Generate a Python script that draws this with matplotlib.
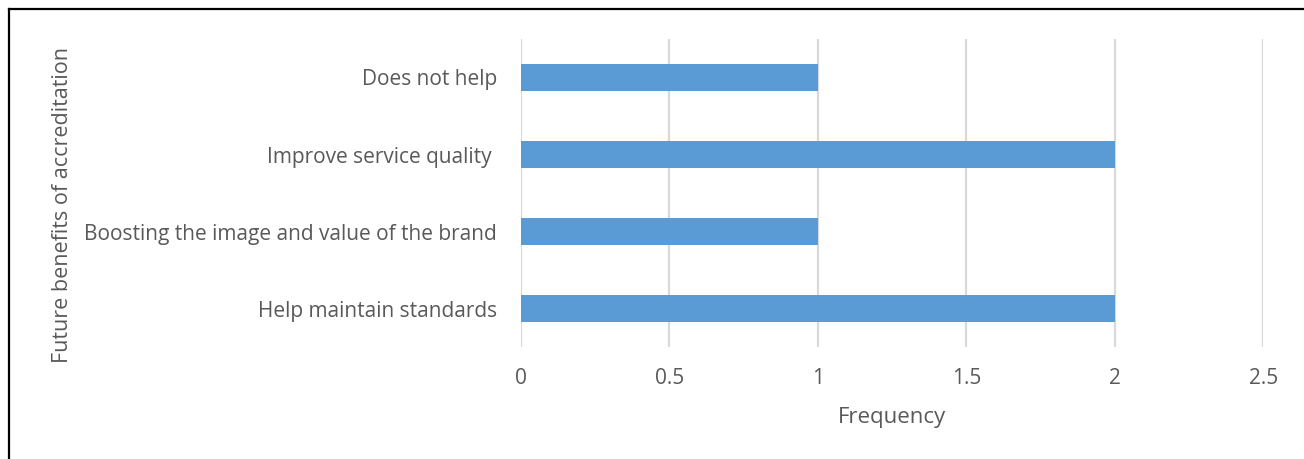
import matplotlib.pyplot as plt
from matplotlib.lines import Line2D

categories = ["Help maintain standards",
              "Boosting the image and value of the brand",
              "Improve service quality ",
              "Does not help"]
frequency = [2, 1, 2, 1]
x_ticks = [0, 0.5, 1, 1.5, 2, 2.5]
x_tick_labels = ["0", "0.5", "1", "1.5", "2", "2.5"]

plt.rcParams['font.family'] = ['Open Sans', 'DejaVu Sans']
text_color = "#595959"
bar_color = "#5B9BD5"

fig = plt.figure(figsize=(13.04, 4.59), dpi=100)
ax = fig.add_axes([520.7 / 1304, 1 - 347 / 459, (1263.3 - 520.7) / 1304, (347 - 39) / 459])

ax.barh(range(len(categories)), frequency, height=0.35, color=bar_color, zorder=3)
ax.set_ylim(-0.5, len(categories) - 0.5)
ax.set_xlim(0, 2.5)
ax.set_xticks(x_ticks)
ax.set_xticklabels(x_tick_labels)
ax.set_yticks(range(len(categories)))
ax.set_yticklabels(categories)

ax.grid(axis='x', color="#D9D9D9", linewidth=1.6, zorder=0)
for s in ax.spines.values():
    s.set_visible(False)
ax.tick_params(axis='both', length=0, labelsize=15, colors=text_color)
ax.tick_params(axis='y', pad=17)
ax.tick_params(axis='x', pad=15)

fig.text(892 / 1304, 1 - 417 / 459, "Frequency", ha='center', va='center',
         fontsize=16, color=text_color)
fig.text(62 / 1304, 1 - 205 / 459, "Future benefits of accreditation", ha='center',
         va='center', rotation=90, fontsize=15.5, color=text_color)

# frame along the left and top edges
fig.add_artist(Line2D([9 / 1304, 9 / 1304], [0, 1 - 9 / 459], color='black',
                      linewidth=1.6, transform=fig.transFigure))
fig.add_artist(Line2D([9 / 1304, 1], [1 - 9 / 459, 1 - 9 / 459], color='black',
                      linewidth=1.6, transform=fig.transFigure))

fig.savefig("out.png", dpi=100)
